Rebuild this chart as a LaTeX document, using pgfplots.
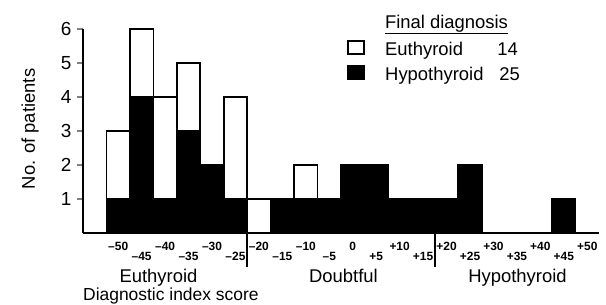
\documentclass[border=0pt]{standalone}
\usepackage{pgfplots}
\usepackage{pgfplotstable}
\pgfplotsset{compat=1.18}
\usepackage{fontspec}
\setmainfont{Liberation Sans}

\pgfplotstableread{
x hypo eu
-50 1 2
-45 4 2
-40 1 3
-35 3 2
-30 2 0
-25 1 3
-20 0 1
-15 1 0
-10 1 1
-5 1 0
0 2 0
5 2 0
10 1 0
15 1 0
20 1 0
25 2 0
30 0 0
35 0 0
40 0 0
45 1 0
50 0 0
}\datatable

\begin{document}
\begin{tikzpicture}[x=1bp,y=1bp]
\begin{axis}[
  at={(0,0)}, anchor=south west,
  scale only axis, width=516bp, height=204bp,
  xmin=-57.5, xmax=52.5, ymin=0, ymax=6,
  axis x line=bottom, axis y line=left,
  axis line style={-, line width=2bp},
  ybar stacked, bar width=5,
  clip=false,
  ytick={1,2,3,4,5,6}, yticklabels={1,2,3,4,5,6},
  yticklabel style={font=\fontsize{19}{19}\selectfont, xshift=-2bp},
  ytick style={line width=1.8bp},
  tick align=outside, major tick length=6bp,
  xtick={-50,-40,...,50},
  xticklabels={--50,--40,--30,--20,--10,0,+10,+20,+30,+40,+50},
  xtick style={draw=none},
  xticklabel style={font=\fontsize{12}{12}\selectfont\bfseries, anchor=center, yshift=-7bp},
  extra x ticks={-45,-35,...,45},
  extra x tick labels={--45,--35,--25,--15,--5,+5,+15,+25,+35,+45},
  extra x tick style={grid=none, xtick style={draw=none}, xticklabel style={yshift=-10bp}},
]
\addplot[fill=black, draw=black, line width=1.6bp] table[x=x, y=hypo] {\datatable};
\addplot[fill=white, draw=black, line width=1.6bp] table[x=x, y=eu] {\datatable};
\draw[line width=2.5bp] (axis cs:-22.5,0) -- (axis cs:-22.5,-1);
\draw[line width=2.5bp] (axis cs:17.5,0) -- (axis cs:17.5,-1);
\end{axis}

\begin{scope}[font=\fontsize{18.5}{20}\selectfont]
% legend
\node[anchor=base, inner sep=0] at (363.5,205) {\underline{Final diagnosis}};
\draw[line width=2.2bp, fill=white] (265,179) rectangle (281,192);
\fill[black] (264,153) rectangle (282,168);
\node[anchor=base west, inner sep=0] at (302,178) {Euthyroid};
\node[anchor=base east, inner sep=0] at (435,178) {14};
\node[anchor=base west, inner sep=0] at (302,153) {Hypothyroid};
\node[anchor=base east, inner sep=0] at (437,153) {25};
% category labels
\node[anchor=base, inner sep=0] at (75.5,-49) {Euthyroid};
\node[anchor=base, inner sep=0] at (260.5,-49) {Doubtful};
\node[anchor=base, inner sep=0] at (434.5,-49) {Hypothyroid};
\node[anchor=base west, inner sep=0, font=\fontsize{17.5}{18}\selectfont] at (0,-67) {Diagnostic index score};
\node[anchor=base, inner sep=0, rotate=90] at (-48,104) {No. of patients};
\end{scope}

\pgfresetboundingbox
\path (-83,-71) rectangle (523,233);
\end{tikzpicture}
\end{document}
